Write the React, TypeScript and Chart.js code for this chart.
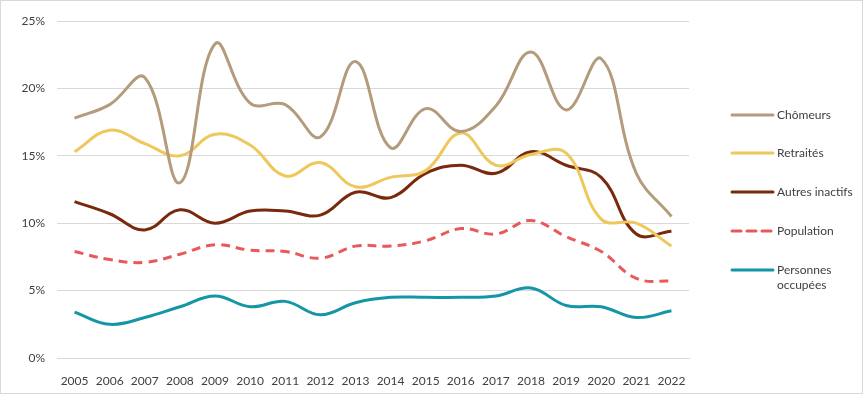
import React, { useEffect, useRef } from "react";
import { Chart, registerables } from "chart.js";

Chart.register(...registerables);

const years = ["2005","2006","2007","2008","2009","2010","2011","2012","2013","2014","2015","2016","2017","2018","2019","2020","2021","2022"];
const chomeurs = [17.8,18.8,20.8,13.0,23.3,18.9,18.8,16.4,22.0,15.6,18.5,16.8,18.7,22.7,18.4,22.2,13.7,10.5];
const retraites = [15.3,16.9,15.9,15.0,16.6,15.8,13.5,14.5,12.7,13.4,13.9,16.7,14.3,15.1,15.2,10.3,10.0,8.3];
const autresInactifs = [11.6,10.7,9.5,11.0,10.0,10.9,10.9,10.6,12.3,11.9,13.7,14.3,13.7,15.3,14.3,13.4,9.2,9.4];
const population = [7.9,7.3,7.1,7.7,8.4,8.0,7.9,7.4,8.3,8.3,8.7,9.6,9.2,10.2,9.0,7.9,5.9,5.7];
const personnesOccupees = [3.4,2.5,3.0,3.8,4.6,3.8,4.2,3.2,4.1,4.5,4.5,4.5,4.6,5.2,3.9,3.8,3.0,3.5];
const yTicks = [0, 5, 10, 15, 20, 25];

const seriesLabels = ["Chômeurs", "Retraités", "Autres inactifs", "Population", "Personnes occupées"];
const seriesColors = ["#B39B7C", "#EEC85C", "#7A2A0C", "#E85A5A", "#1596A6"];

const FONT = "Lato, 'Open Sans', sans-serif";

const legendPlugin = {
  id: "customLegend",
  afterDraw(chart: any) {
    const ctx = chart.ctx;
    const items = [
      { y: 114, lines: ["Chômeurs"] },
      { y: 152, lines: ["Retraités"] },
      { y: 191, lines: ["Autres inactifs"] },
      { y: 230, lines: ["Population"] },
      { y: 269, lines: ["Personnes", "occupées"] },
    ];
    ctx.save();
    chart.data.datasets.forEach((ds: any, i: number) => {
      const it = items[i];
      ctx.strokeStyle = ds.borderColor;
      ctx.lineWidth = 3;
      ctx.lineCap = "round";
      ctx.setLineDash(ds.borderDash || []);
      ctx.beginPath();
      ctx.moveTo(731, it.y);
      ctx.lineTo(772, it.y);
      ctx.stroke();
      ctx.setLineDash([]);
      ctx.fillStyle = "#404040";
      ctx.font = `12px ${FONT}`;
      ctx.textBaseline = "middle";
      ctx.textAlign = "left";
      it.lines.forEach((t: string, k: number) => {
        ctx.fillText(t, 776, it.y + k * 15);
      });
    });
    ctx.restore();
  },
};

export default function App() {
  const ref = useRef<HTMLCanvasElement>(null);
  useEffect(() => {
    document.body.style.margin = "0";
    const values = [chomeurs, retraites, autresInactifs, population, personnesOccupees];
    const chart = new Chart(ref.current!, {
      type: "line",
      data: {
        labels: years,
        datasets: values.map((v, i) => ({
          label: seriesLabels[i],
          data: v,
          borderColor: seriesColors[i],
          backgroundColor: seriesColors[i],
          borderWidth: 3,
          borderDash: i === 3 ? [9, 6] : undefined,
          pointRadius: 0,
          tension: 0.4,
          fill: false,
        })),
      },
      options: {
        animation: false,
        responsive: false,
        layout: { padding: { top: 20, right: 173, left: 0, bottom: 0 } },
        plugins: { legend: { display: false }, tooltip: { enabled: false } },
        scales: {
          x: {
            offset: true,
            grid: { display: false },
            border: { display: true, color: "#D9D9D9" },
            ticks: { color: "#404040", font: { family: FONT, size: 12 }, padding: 8, maxRotation: 0, autoSkip: false },
            afterFit: (s: any) => { s.height = 35; },
          },
          y: {
            min: 0,
            max: 25,
            afterBuildTicks: (s: any) => { s.ticks = yTicks.map((v) => ({ value: v })); },
            grid: { color: "#D9D9D9", drawTicks: false },
            border: { display: false },
            ticks: { color: "#404040", font: { family: FONT, size: 12 }, padding: 12, callback: (v: any) => v + "%" },
            afterFit: (s: any) => { s.width = 56; },
          },
        },
      },
      plugins: [legendPlugin],
    });
    return () => chart.destroy();
  }, []);
  return (
    <div style={{ width: 861, height: 392, border: "1px solid #D9D9D9", background: "#fff" }}>
      <canvas ref={ref} width={861} height={392} style={{ display: "block" }} />
    </div>
  );
}
